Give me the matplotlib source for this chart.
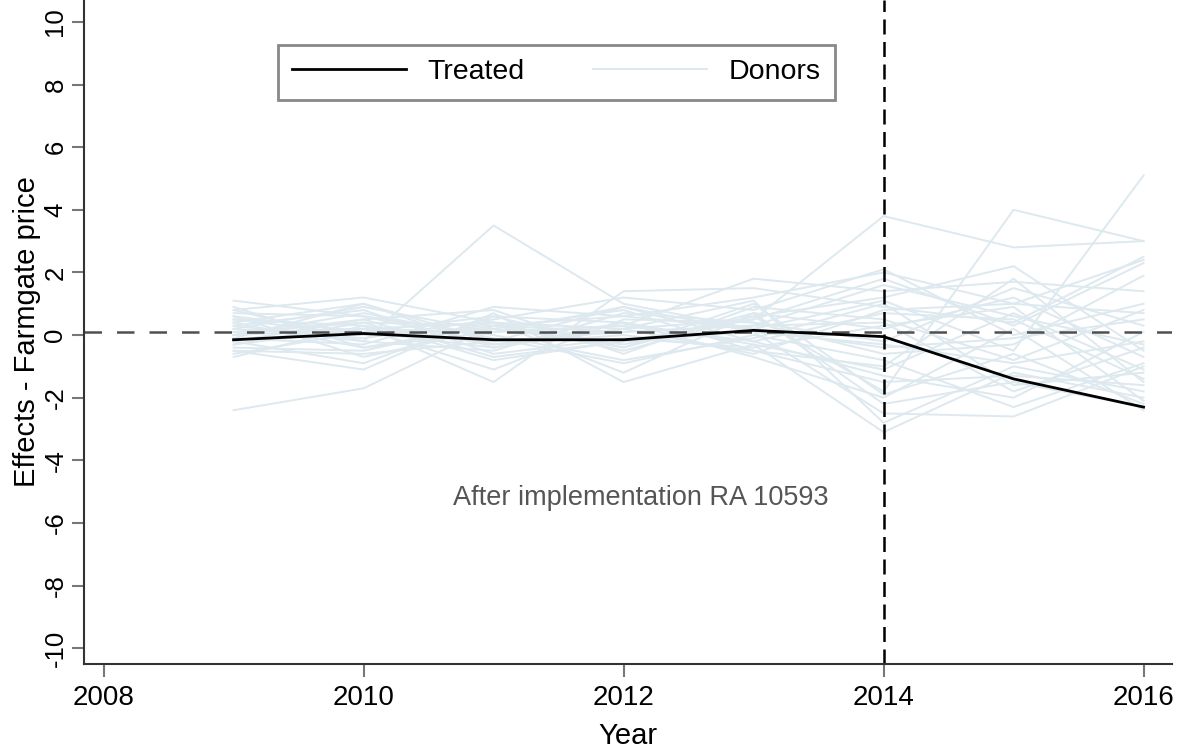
import matplotlib
matplotlib.use('Agg')
import matplotlib.pyplot as plt

plt.rcParams['font.family'] = ['Liberation Sans', 'DejaVu Sans']

years = [2009, 2010, 2011, 2012, 2013, 2014, 2015, 2016]
treated = [-0.15, 0.05, -0.15, -0.15, 0.15, -0.05, -1.4, -2.3]

# donor pool paths
donors = [
    [1.1, 0.6, -0.3, 0.2, 0.5, 3.8, 2.8, 3.0],
    [-2.4, -1.7, 0.3, 0.6, 1.2, 2.0, 1.0, 2.4],
    [0.3, -0.2, 3.5, 1.0, 0.2, 1.1, -0.5, 5.1],
    [0.8, 1.2, 0.4, -0.5, 0.6, -1.8, 4.0, 3.0],
    [0.5, 0.3, -1.5, 1.4, 1.5, 0.9, 0.4, 2.5],
    [-0.5, -1.1, 0.7, -1.5, -0.3, -3.1, -1.2, -2.0],
    [0.2, 0.9, 0.1, 0.3, 1.8, 1.4, 1.7, 1.4],
    [-0.3, 0.4, -0.8, -0.2, 0.1, -2.5, -2.6, -1.0],
    [0.6, -0.7, 0.2, 0.8, -0.5, -1.0, 1.8, -1.5],
    [0.0, 0.5, 0.8, -0.6, 0.9, 0.5, -0.8, 0.8],
    [-0.6, 0.1, -0.4, 0.4, -0.7, -2.0, 0.2, -2.4],
    [0.9, -0.4, 0.3, 0.1, 0.3, 1.6, 0.6, -0.3],
    [0.4, 1.0, -0.2, 0.9, -0.2, -1.3, -2.0, 0.1],
    [-0.2, -0.9, 0.6, -0.4, 0.7, 0.2, 1.2, -0.7],
    [0.1, 0.2, -1.1, 0.5, 0.4, -0.6, -0.3, 1.9],
    [0.7, 0.6, 0.0, -0.8, -0.1, 1.0, -1.6, -1.2],
    [-0.4, -0.5, 0.4, 0.2, 1.1, -2.8, -1.0, -1.8],
    [0.3, 0.8, -0.6, -0.1, -0.4, 0.3, 0.9, -2.1],
    [-0.1, -0.3, 0.9, 0.6, 0.2, -0.4, -0.1, 0.5],
    [0.5, 0.0, 0.2, -0.3, 0.6, 1.2, 2.2, -0.5],
    [-0.7, 0.3, -0.3, 0.0, -0.5, -1.5, -1.3, -1.6],
    [0.2, -0.1, 0.5, 1.2, 0.8, 2.1, 0.0, 1.0],
    [0.0, 0.7, -0.1, -0.9, 0.0, -0.8, -2.3, -0.9],
    [-0.3, 0.2, 0.1, 0.3, -0.2, 0.7, 0.5, -1.4],
    [0.8, -0.2, -0.5, 0.7, 0.4, -0.2, 1.5, 0.3],
    [0.1, 0.4, 0.3, -0.4, 1.0, -1.9, -0.6, -2.2],
    [-0.5, -0.6, -0.2, 0.1, 0.3, 0.4, -1.8, -0.4],
    [0.6, 0.1, 0.6, 0.4, -0.3, -1.1, 0.7, -1.1],
    [-0.2, 0.5, -0.7, -0.2, 0.5, 1.8, 0.3, 2.3],
    [0.4, -0.4, 0.1, 0.9, 0.1, -0.3, -0.9, -0.2],
    [0.0, 0.2, 0.4, -1.2, 0.7, -2.2, -1.5, -2.3],
    [-0.1, 1.0, -0.4, 0.2, -0.6, 0.8, 1.0, 0.7],
]

xticks = [2008, 2010, 2012, 2014, 2016]
yticks = [-10, -8, -6, -4, -2, 0, 2, 4, 6, 8, 10]
treat_year = 2014
note = 'After implementation RA 10593'

fig = plt.figure(figsize=(11.84, 7.51), dpi=100)
ax = fig.add_axes([0.071, 0.116, 0.919, 0.884])

donor_col = '#dde9ef'
for i, d in enumerate(donors):
    ax.plot(years, d, color=donor_col, lw=1.4, zorder=1,
            label='Donors' if i == 0 else None)
ax.plot(years, treated, color='black', lw=2, zorder=3, label='Treated')

ax.axhline(0.1, color='#505050', lw=1.8, dashes=(7, 6), zorder=2)
ax.axvline(treat_year, color='black', lw=1.8, dashes=(6, 3), zorder=2)

ax.text(2012.13, -5.2, note, color='#555555', fontsize=19.5,
        ha='center', va='center')

ax.set_xlim(2007.85, 2016.22)
ax.set_ylim(-10.5, 10.7)
ax.set_xticks(xticks)
ax.set_yticks(yticks)
ax.set_yticklabels([str(v) for v in yticks], rotation=90, va='center')
ax.tick_params(axis='both', length=9, width=1.5,
               color='#777777', direction='out')
ax.tick_params(axis='x', labelsize=20, pad=6)
ax.tick_params(axis='y', labelsize=18.5, pad=3)

for s in ['top', 'right']:
    ax.spines[s].set_visible(False)
for s in ['left', 'bottom']:
    ax.spines[s].set_color('#333333')
    ax.spines[s].set_linewidth(1.5)

ax.set_xlabel('Year', fontsize=21, labelpad=8)
ax.set_ylabel('Effects - Farmgate price', fontsize=21, labelpad=2)

h, l = ax.get_legend_handles_labels()
order = [l.index('Treated'), l.index('Donors')]
leg = ax.legend([h[k] for k in order], [l[k] for k in order], ncol=2,
                loc='upper left', bbox_to_anchor=(0.178, 0.932),
                borderaxespad=0, fontsize=20.5, handlelength=4.0,
                handletextpad=0.77, columnspacing=2.4, fancybox=False,
                framealpha=1, borderpad=0.5)
leg.get_frame().set_edgecolor('#888888')
leg.get_frame().set_linewidth(2)

fig.savefig('out.png', dpi=100)
